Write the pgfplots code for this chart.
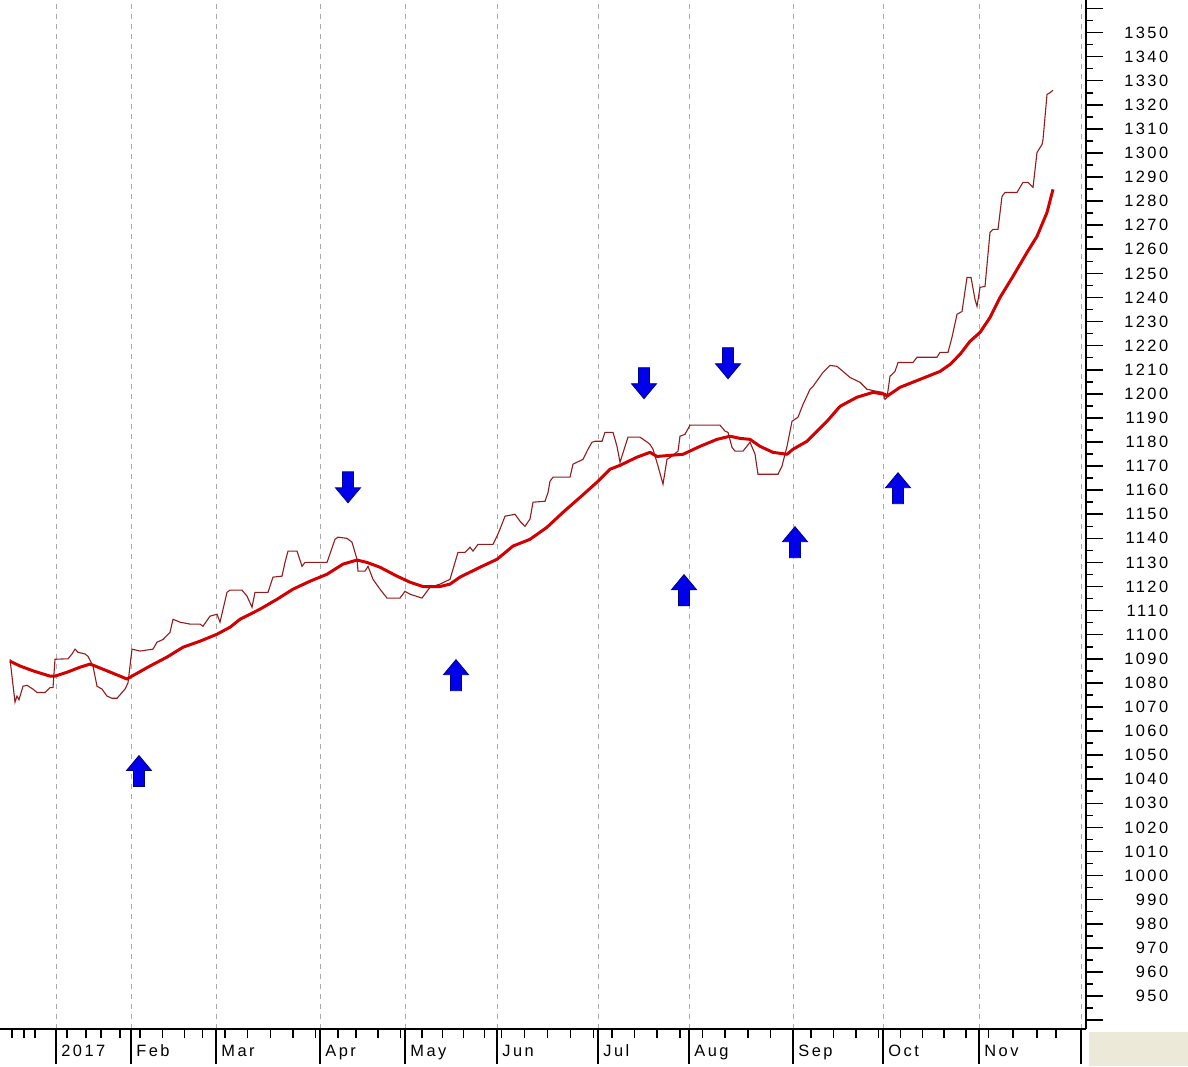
\documentclass[border=0pt]{standalone}
\usepackage{fontspec}
\setmainfont{Liberation Sans}
\newfontfamily\tickfont[LetterSpace=15]{Liberation Sans}
\usepackage{pgfplots}
\pgfplotsset{compat=1.18}
\definecolor{thickred}{RGB}{210,0,0}
\definecolor{thinred}{RGB}{145,28,28}
\definecolor{arrowblue}{RGB}{0,0,235}
\definecolor{arrowedge}{RGB}{0,0,130}
\definecolor{gridgray}{RGB}{170,170,170}
\definecolor{beige}{RGB}{236,233,216}
\pgfdeclareplotmark{uparr}{%
  \pgfpathmoveto{\pgfqpoint{0pt}{7.75pt}}%
  \pgfpathlineto{\pgfqpoint{6.25pt}{0.25pt}}%
  \pgfpathlineto{\pgfqpoint{2.75pt}{0.25pt}}%
  \pgfpathlineto{\pgfqpoint{2.75pt}{-7.75pt}}%
  \pgfpathlineto{\pgfqpoint{-2.75pt}{-7.75pt}}%
  \pgfpathlineto{\pgfqpoint{-2.75pt}{0.25pt}}%
  \pgfpathlineto{\pgfqpoint{-6.25pt}{0.25pt}}%
  \pgfpathclose
  \pgfusepathqfillstroke}
\pgfdeclareplotmark{dnarr}{%
  \pgfpathmoveto{\pgfqpoint{0pt}{-7.75pt}}%
  \pgfpathlineto{\pgfqpoint{6.25pt}{-0.25pt}}%
  \pgfpathlineto{\pgfqpoint{2.75pt}{-0.25pt}}%
  \pgfpathlineto{\pgfqpoint{2.75pt}{7.75pt}}%
  \pgfpathlineto{\pgfqpoint{-2.75pt}{7.75pt}}%
  \pgfpathlineto{\pgfqpoint{-2.75pt}{-0.25pt}}%
  \pgfpathlineto{\pgfqpoint{-6.25pt}{-0.25pt}}%
  \pgfpathclose
  \pgfusepathqfillstroke}
\begin{document}
\begin{tikzpicture}
\useasboundingbox (0,0) rectangle (594pt,533pt);
\fill[beige] (544.5pt,0) rectangle (594pt,17pt);
\begin{axis}[
  at={(0pt,18.5pt)}, anchor=south west,
  scale only axis, width=543pt, height=514.5pt,
  xmin=0, xmax=1086, ymin=936.3, ymax=1363.5,
  axis x line*=bottom, axis y line*=right,
  x axis line style={line width=1pt,-},
  y axis line style={line width=1pt,-},
  tick align=outside,
  xtick={56,131,216,320,405,497,598,689,793,883,979,1081},
  xticklabels={2017,Feb,Mar,Apr,May,Jun,Jul,Aug,Sep,Oct,Nov,{}},
  minor xtick={12,24,35,67,86,101,119.75,140,162.3,184.6,202.5,225,247.6,270.3,292.9,315.5,337.9,355.8,378.1,400.5,421.7,442.6,463.5,484.4,501.6,524.5,547.5,570.4,593.4,611.7,634.4,657.2,679.9,702.6,725.2,747.8,770.4,811,833.5,856,878.5,900.5,922.3,944,965.9,988.6,1012.7,1036.7,1056},
  xtick style={black, line width=0.8pt, /pgfplots/major tick length=17.5pt, /pgfplots/minor tick length=4.5pt},
  ytick={950,960,...,1350},
  extra y ticks={940,1360}, extra y tick labels={},
  minor ytick={945,955,...,1355},
  ytick style={black, line width=0.8pt, /pgfplots/major tick length=8.5pt, /pgfplots/minor tick length=3.5pt},
  /pgf/number format/1000 sep={},
  /pgf/number format/assume math mode=true,
  ticklabel style={font=\fontsize{8.2}{9}\tickfont, inner sep=0pt},
  yticklabel style={anchor=east, xshift=37pt},
  xticklabel style={anchor=north west, xshift=2.5pt, yshift=-3.5pt},
  xmajorgrids=true,
  major grid style={gridgray, dash pattern=on 2.5pt off 2.5pt, line width=0.5pt},
]
\addplot[thinred, line width=0.55pt] coordinates {
(10,1089.8)(15,1072)(17,1074.5)(19,1073)(23,1078.6)(27,1079)(33,1077.4)(37,1076)(45,1076)(50,1078)(53,1078)(55,1089.8)(68,1090)(72,1092)(75,1094)(78,1092.7)(85,1092)(88,1091)(93,1087)(97,1078.6)(102,1077.4)(107,1074.5)(112,1073.6)(117,1073.6)(122,1076)(125,1077.4)(128,1080)(132,1094)(140,1093.2)(153,1094)(157,1096.9)(163,1098)(170,1101)(173,1106.4)(180,1105.2)(190,1104.4)(200,1104.4)(203,1103.5)(210,1107.7)(217,1108.5)(220,1105.2)(227,1117.6)(230,1118.5)(242,1118.5)(247,1116)(252,1111.4)(255,1117.6)(268,1117.6)(273,1123.9)(282,1124.3)(285,1130)(288,1134.7)(297,1134.7)(302,1128.4)(305,1130)(327,1130)(335,1139.6)(338,1140.5)(347,1140)(352,1138.4)(357,1131.3)(358,1126.4)(365,1126.4)(368,1128.4)(373,1123)(380,1118.9)(387,1115.2)(400,1115.2)(405,1118)(410,1116.8)(422,1115.2)(430,1119.7)(440,1121)(450,1123)(453,1127.2)(458,1134.2)(465,1134.2)(470,1136.3)(473,1134.7)(478,1137.5)(493,1137.5)(497,1140.9)(500,1143.8)(505,1149.2)(515,1150)(520,1147.1)(525,1145)(530,1148)(533,1155)(545,1155.4)(548,1159)(550,1163.7)(553,1165.4)(570,1165.4)(573,1170.8)(583,1172.8)(588,1177)(592,1179.9)(595,1180.3)(602,1180.3)(605,1184)(613,1184)(617,1178.2)(620,1171.6)(628,1182)(640,1182)(647,1180)(650,1179)(653,1177)(658,1170)(663,1162.5)(667,1172.8)(670,1173.5)(678,1176.2)(680,1182.4)(685,1183.2)(690,1187)(720,1187)(725,1184.5)(728,1184)(732,1177.8)(735,1176.2)(743,1176.2)(750,1179.9)(755,1175)(758,1166.6)(778,1166.6)(782,1170)(787,1178.2)(792,1188.6)(798,1190.3)(803,1195.6)(810,1201.9)(813,1203.1)(823,1208.9)(830,1211.8)(837,1211.4)(843,1209.3)(850,1206.8)(860,1204.8)(867,1201.9)(877,1201)(883,1200.6)(885,1197.7)(887,1198.5)(890,1207.3)(895,1209.3)(898,1213)(913,1213)(917,1215.2)(937,1215.2)(940,1217.2)(948,1217.2)(952,1223.5)(957,1233)(962,1234.2)(967,1248.3)(971,1248.3)(975,1239.2)(977,1236.3)(980,1244.2)(985,1244.6)(990,1267)(993,1268.3)(998,1268.3)(1002,1282)(1005,1283.6)(1017,1283.6)(1023,1287.8)(1028,1287.8)(1033,1285.7)(1037,1300.2)(1042,1303.5)(1043,1305.6)(1047,1324.3)(1050,1325)(1053,1326)
};
\addplot[thickred, line width=1.5pt, line join=round] coordinates {
(10,1089)(20,1087)(33,1085)(50,1082.8)(55,1082.8)(67,1084.4)(80,1086.5)(90,1087.8)(95,1087)(107,1085)(120,1082.8)(127,1081.6)(132,1082.8)(150,1087)(167,1090.7)(183,1094.8)(200,1097.3)(217,1100.2)(230,1103.1)(240,1106.4)(260,1110.6)(277,1114.7)(293,1118.9)(310,1122.2)(327,1125.1)(343,1129.3)(357,1131)(367,1130)(380,1128)(397,1124.3)(410,1121.8)(423,1120)(440,1120)(450,1121)(460,1123.9)(480,1128)(497,1131.3)(513,1136.8)(530,1139.6)(547,1144.6)(563,1150.8)(580,1157)(597,1163.3)(610,1168.7)(620,1170.3)(637,1173.7)(650,1175.7)(657,1174)(683,1174.9)(700,1178.2)(717,1181.1)(730,1182.4)(740,1181.5)(750,1181.1)(760,1178.2)(773,1175.7)(787,1174.9)(793,1177)(807,1180.3)(827,1188.6)(840,1194.8)(857,1198.6)(873,1200.6)(885,1199.8)(887,1199)(900,1202.7)(920,1206)(940,1209.3)(950,1212.2)(960,1216.4)(970,1221.8)(980,1225.5)(990,1231.7)(1000,1240)(1013,1248.8)(1027,1258.7)(1037,1265.4)(1047,1275.3)(1053,1284.9)
};
\addplot[only marks, mark=uparr, mark options={fill=arrowblue, draw=arrowedge, line width=0.4pt}] coordinates {
(139,1043.4)(456,1083.2)(684,1118.5)(795,1138.4)(898,1160.8)
};
\addplot[only marks, mark=dnarr, mark options={fill=arrowblue, draw=arrowedge, line width=0.4pt}] coordinates {
(348,1161.2)(644,1204.4)(728,1212.7)
};
\end{axis}
\end{tikzpicture}
\end{document}
